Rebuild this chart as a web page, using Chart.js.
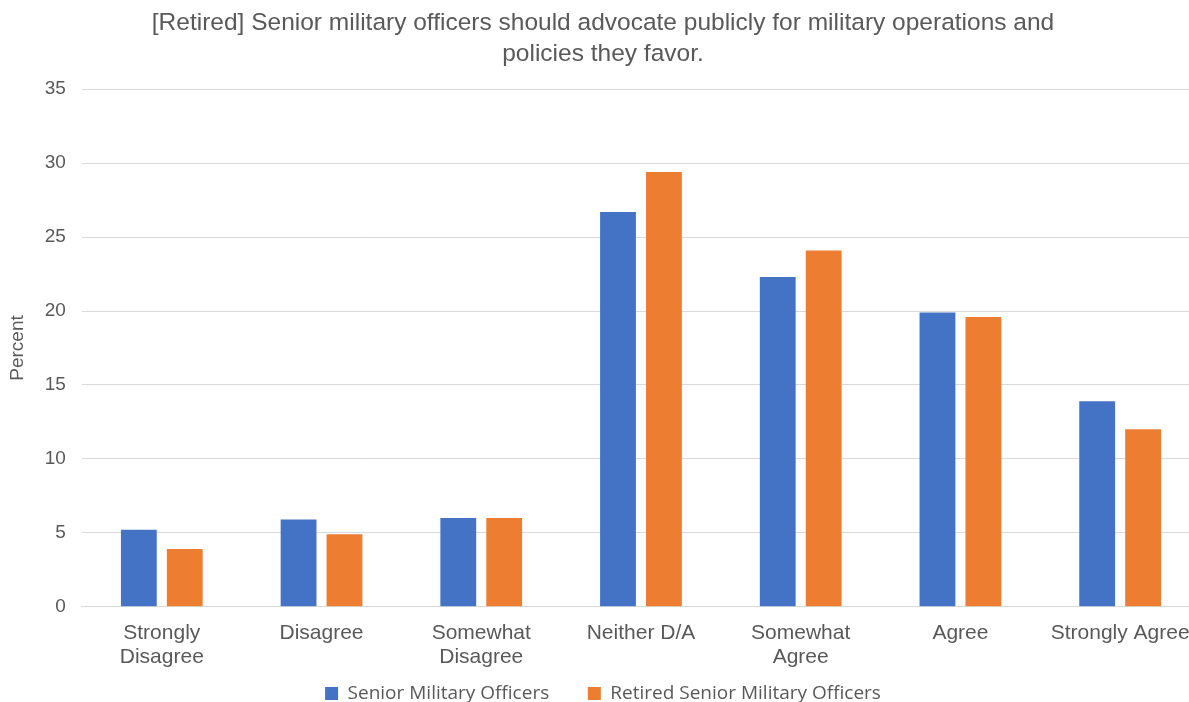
<!DOCTYPE html>
<html>
<head>
<meta charset="utf-8">
<script src="https://cdn.jsdelivr.net/npm/chart.js@4/dist/chart.umd.min.js"></script>
<style>
    html, body { margin: 0; padding: 0; background: #fff; overflow: hidden; }
    #wrap { position: absolute; left: 0; top: 0; width: 1200px; height: 713px; }
</style>
</head>
<body>
<div id="wrap"><canvas id="chart"></canvas></div>
<script>
const categories = [
    ['Strongly', 'Disagree'],
    'Disagree',
    ['Somewhat', 'Disagree'],
    'Neither D/A',
    ['Somewhat', 'Agree'],
    'Agree',
    'Strongly Agree',
];
const seniorOfficers = [5.2, 5.9, 6.0, 26.7, 22.3, 19.9, 13.9];
const retiredOfficers = [3.9, 4.9, 6.0, 29.4, 24.1, 19.6, 12.0];
const seriesNames = ['Senior Military Officers', 'Retired Senior Military Officers'];
const titleLines = [
    '[Retired] Senior military officers should advocate publicly for military operations and',
    'policies they favor.',
];

const textColor = '#595959';
const fontFamily = "'Liberation Sans', Arial, sans-serif";

const ctx = document.getElementById('chart').getContext('2d');
new Chart(ctx, {
    type: 'bar',
    data: {
        labels: categories,
        datasets: [
            {
                label: seriesNames[0],
                data: seniorOfficers,
                backgroundColor: '#4472c4',
                categoryPercentage: 0.575,
                barPercentage: 0.78,
            },
            {
                label: seriesNames[1],
                data: retiredOfficers,
                backgroundColor: '#ed7d31',
                categoryPercentage: 0.575,
                barPercentage: 0.78,
            },
        ],
    },
    options: {
        responsive: true,
        maintainAspectRatio: false,
        animation: { duration: 0 },
        layout: { padding: { left: 6, right: 0, top: 4, bottom: 0 } },
        scales: {
            x: {
                grid: { display: false },
                border: { color: '#d9d9d9' },
                ticks: {
                    color: textColor,
                    font: { family: fontFamily, size: 21, lineHeight: 1.15 },
                    maxRotation: 0,
                    autoSkip: false,
                    padding: 6,
                },
            },
            y: {
                min: 0,
                max: 35,
                ticks: {
                    stepSize: 5,
                    color: textColor,
                    font: { family: fontFamily, size: 19 },
                    padding: 16,
                },
                grid: { color: '#d9d9d9', drawTicks: false },
                border: { display: false },
                title: {
                    display: true,
                    text: 'Percent',
                    color: textColor,
                    font: { family: fontFamily, size: 19 },
                    padding: 0,
                },
            },
        },
        plugins: {
            title: {
                display: true,
                text: titleLines,
                color: textColor,
                font: { family: fontFamily, size: 24.5, weight: 'normal', lineHeight: 1.25 },
                padding: { top: 4, bottom: 20 },
            },
            legend: {
                position: 'bottom',
                labels: {
                    color: textColor,
                    font: { family: "'Open Sans', sans-serif", size: 19 },
                    boxWidth: 13,
                    boxHeight: 13,
                    padding: 9,
                    generateLabels: (chart) => {
                        const items = Chart.defaults.plugins.legend.labels.generateLabels(chart);
                        // wider gap between the two entries, like the original
                        items[0].text = items[0].text + '      ';
                        return items;
                    },
                },
            },
            tooltip: { enabled: false },
        },
    },
});
</script>
</body>
</html>
